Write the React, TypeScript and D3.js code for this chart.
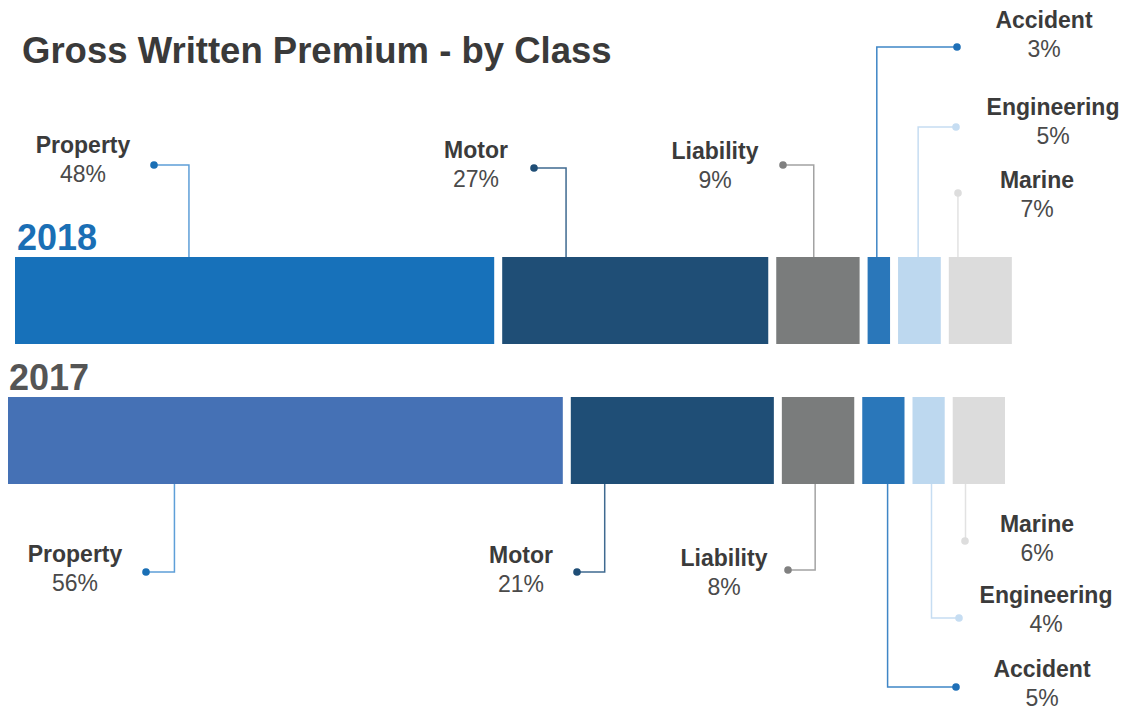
import React from "react";
import * as d3 from "d3";

// ---------- data ----------
const classes = ["Property", "Motor", "Liability", "Accident", "Engineering", "Marine"];
const years = ["2018", "2017"];
const share2018 = [48, 27, 9, 3, 5, 7];
const share2017 = [56, 21, 8, 5, 4, 6];
const title = "Gross Written Premium - by Class";

// ---------- styles / layout ----------
const W = 1138;
const H = 709;
const FONT = "'Liberation Sans', Arial, Helvetica, sans-serif";
const segColors = ["#1771BA", "#1F4E76", "#7A7C7C", "#2A77BA", "#BDD8EF", "#DCDCDC"];
const property2017Color = "#4571B5";
const lineColors = ["#5E9FD8", "#3F6A90", "#A3A3A3", "#3F86C6", "#C6DDF2", "#E2E2E2"];
const dotColors = ["#1A6FB5", "#1F4E76", "#808080", "#1F70B8", "#C6DDF2", "#DDDDDD"];

const GAP = 8;
const BAR_H = 87;

type YearLayout = {
  x0: number;
  span: number;
  barTop: number;
  yearLabel: { x: number; y: number; color: string };
  side: "above" | "below";
  anchorFrac: number[];
  dots: [number, number][];
  labels: [number, number][]; // label centre x, name baseline y
};

const layout: YearLayout[] = [
  {
    x0: 15,
    span: 1015,
    barTop: 257,
    yearLabel: { x: 17, y: 250, color: "#1A6FB5" },
    side: "above",
    anchorFrac: [0.363, 0.24, 0.45, 0.41, 0.47, 0.145],
    dots: [[154, 165], [534, 168], [783, 165], [957, 47], [956, 127], [958, 193]],
    labels: [[83, 153], [476, 158], [715, 159], [1044, 28], [1053, 115], [1037, 188]],
  },
  {
    x0: 8,
    span: 1005,
    barTop: 397,
    yearLabel: { x: 9, y: 390, color: "#555555" },
    side: "below",
    anchorFrac: [0.3, 0.167, 0.46, 0.6, 0.59, 0.245],
    dots: [[146, 572], [577, 572], [788, 570], [956, 687], [959, 618], [965, 541]],
    labels: [[75, 562], [521, 563], [724, 566], [1042, 677], [1046, 603], [1037, 532]],
  },
];

export default function App() {
  const series = [share2018, share2017];

  return (
    <svg
      width={W}
      height={H}
      viewBox={`0 0 ${W} ${H}`}
      style={{ position: "absolute", left: 0, top: 0, background: "#fff", fontFamily: FONT }}
    >
      <text x={22} y={63} fontSize={36.5} fontWeight="bold" fill="#3A3A3A">
        {title}
      </text>

      {years.map((yr, yi) => {
        const L = layout[yi];
        const x = d3.scaleLinear().domain([0, 100]).range([L.x0, L.x0 + L.span]);
        const vals = series[yi];
        const cum = d3.cumsum(vals);
        const segs = vals.map((v, i) => {
          const start = i === 0 ? 0 : cum[i - 1];
          const xa = x(start);
          const xb = x(start + v) - GAP;
          return { v, i, xa, xb };
        });
        const barBottom = L.barTop + BAR_H;
        return (
          <g key={yr}>
            <text
              x={L.yearLabel.x}
              y={L.yearLabel.y}
              fontSize={36}
              fontWeight="bold"
              fill={L.yearLabel.color}
            >
              {yr}
            </text>
            {segs.map((s) => {
              const color = yi === 1 && s.i === 0 ? property2017Color : segColors[s.i];
              const ax = s.xa + (s.xb - s.xa) * L.anchorFrac[s.i];
              const [dx, dy] = L.dots[s.i];
              const [lx, ly] = L.labels[s.i];
              const edgeY = L.side === "above" ? L.barTop : barBottom;
              const path = d3.path();
              path.moveTo(ax, edgeY);
              path.lineTo(ax, dy);
              path.lineTo(dx, dy);
              return (
                <g key={classes[s.i]}>
                  <rect x={s.xa} y={L.barTop} width={s.xb - s.xa} height={BAR_H} fill={color} />
                  <path
                    d={path.toString()}
                    fill="none"
                    stroke={lineColors[s.i]}
                    strokeWidth={1.5}
                  />
                  <circle cx={dx} cy={dy} r={3.8} fill={dotColors[s.i]} />
                  <text
                    x={lx}
                    y={ly}
                    textAnchor="middle"
                    fontSize={23}
                    fontWeight="bold"
                    fill="#3B3B3B"
                  >
                    {classes[s.i]}
                  </text>
                  <text x={lx} y={ly + 28.5} textAnchor="middle" fontSize={23} fill="#4A4A4A">
                    {`${s.v}%`}
                  </text>
                </g>
              );
            })}
          </g>
        );
      })}
    </svg>
  );
}
